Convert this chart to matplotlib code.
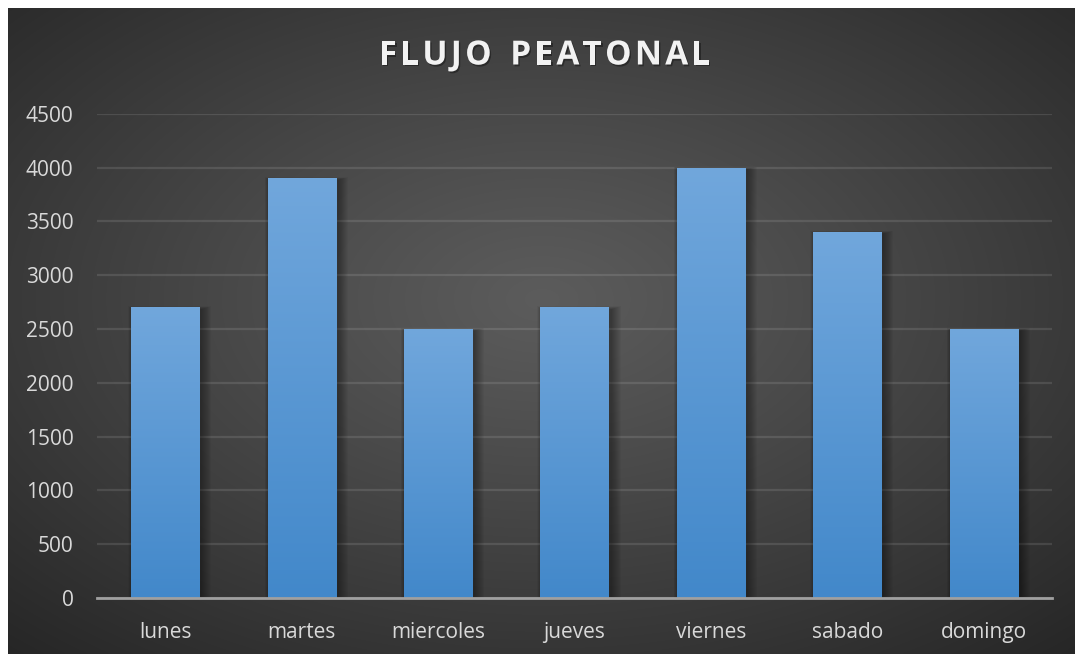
import numpy as np
import matplotlib
matplotlib.use("Agg")
import matplotlib.pyplot as plt
from matplotlib.patches import Rectangle
from matplotlib import patheffects as pe

# Weekly pedestrian counts
dias = ["lunes", "martes", "miercoles", "jueves", "viernes", "sabado", "domingo"]
flujo = [2700, 3900, 2500, 2700, 4000, 3400, 2500]
yticks = [0, 500, 1000, 1500, 2000, 2500, 3000, 3500, 4000, 4500]
titulo = "FLUJO PEATONAL"

W, H = 1075, 654
fig = plt.figure(figsize=(W / 100, H / 100), dpi=100, facecolor="white")

# Dark panel with a soft radial glow
bg = fig.add_axes([8 / W, 0, (W - 8) / W, (H - 8) / H])
bg.set_axis_off()
ny, nx = 400, 660
yy, xx = np.mgrid[0:ny, 0:nx]
cx, cy = nx * 0.5, ny * 0.45
d = np.sqrt(((xx - cx) / nx) ** 2 + ((yy - cy) / ny) ** 2)
d = d / d.max()
inner, outer = 0.36, 0.15
val = inner - (inner - outer) * np.clip(d, 0, 1) ** 1.1
img = np.dstack([val, val, val])
bg.imshow(img, extent=[0, 1, 0, 1], aspect="auto", interpolation="bilinear", origin="upper")
bg.set_xlim(0, 1)
bg.set_ylim(0, 1)

# Plot area
left, right = 97 / W, 1052 / W
bottom, top = (H - 598) / H, (H - 113.7) / H
ax = fig.add_axes([left, bottom, right - left, top - bottom])
ax.set_facecolor("none")
ax.set_xlim(-0.5, len(dias) - 0.5)
ax.set_ylim(0, 4500)

for s in ["top", "right", "left"]:
    ax.spines[s].set_visible(False)
ax.spines["bottom"].set_color("#a0a0a0")
ax.spines["bottom"].set_linewidth(2.0)
ax.spines["bottom"].set_zorder(6)

ax.set_yticks(yticks)
ax.set_yticklabels([str(v) for v in yticks])
ax.yaxis.grid(True, color="#ffffff", alpha=0.11, linewidth=1.6)
ax.set_axisbelow(True)
ax.tick_params(axis="y", length=0, pad=17, labelsize=15, labelcolor="#d9d9d9")
ax.tick_params(axis="x", length=0, pad=17, labelsize=15, labelcolor="#d9d9d9")
ax.set_xticks(range(len(dias)))
ax.set_xticklabels(dias)
for lab in ax.get_xticklabels() + ax.get_yticklabels():
    lab.set_fontfamily("Open Sans")

# Bars with vertical gradient fill and a soft drop shadow
width = 0.5
px_x = (len(dias)) / (1052 - 97)
px_y = 4500 / (598 - 113.7)
grad = np.linspace(0, 1, 256)[:, None]
c_top = np.array([113, 167, 220]) / 255
c_bot = np.array([66, 136, 202]) / 255
gimg = c_top[None, None, :] * (1 - grad[:, :, None]) + c_bot[None, None, :] * grad[:, :, None]

bars = ax.bar(range(len(dias)), flujo, width=width, color=c_bot, zorder=3)
for i, (b, v) in enumerate(zip(bars, flujo)):
    x0 = b.get_x()
    for k in range(10, 0, -1):
        sh = Rectangle((x0 + 2 * px_x - k * px_x * 0.5, 0),
                       width + k * px_x * 1.5, v + k * px_y * 0.3 - 2 * px_y,
                       facecolor="black", edgecolor="none", alpha=0.035, zorder=2)
        ax.add_patch(sh)
    im = ax.imshow(gimg, extent=[x0, x0 + width, 0, v], aspect="auto",
                   interpolation="bilinear", origin="upper", zorder=4)
    im.set_clip_path(b)

ax.set_xlim(-0.5, len(dias) - 0.5)
ax.set_ylim(0, 4500)

# Title: bold capitals with extra tracking, laid out glyph by glyph
renderer = fig.canvas.get_renderer()
tkw = dict(color="#f2f2f2", fontsize=24, fontweight="bold", fontfamily="Open Sans",
           va="center", ha="left")
track = 3.2  # extra px between letters
widths = []
for ch in titulo:
    tt = fig.text(0, 0, ch if ch != " " else "n", **tkw)
    wpx = tt.get_window_extent(renderer).width
    if ch == " ":
        wpx *= 0.55
    widths.append(wpx)
    tt.remove()
total = sum(widths) + track * (len(titulo) - 1)
xc = (8 + W) / 2 + 3
x = xc - total / 2
ytit = H - 56
for ch, wpx in zip(titulo, widths):
    if ch != " ":
        t = fig.text(x / W, ytit / H, ch, **tkw)
        t.set_path_effects([pe.SimplePatchShadow(offset=(1.0, -1.3), alpha=0.35,
                                                 shadow_rgbFace="black"), pe.Normal()])
    x += wpx + track

fig.savefig("out.png", dpi=100, facecolor="white")
